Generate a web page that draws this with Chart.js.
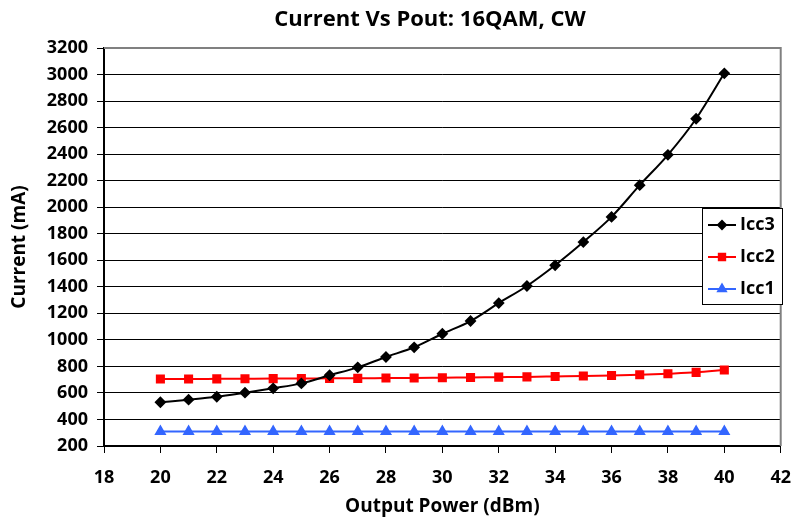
<!DOCTYPE html>
<html>
<head>
<meta charset="utf-8">
<script src="https://cdn.jsdelivr.net/npm/chart.js@4/dist/chart.umd.min.js"></script>
<style>
  body { margin: 0; background: #fff; }
  canvas { display: block; }
</style>
</head>
<body>
<canvas id="grafico" width="805" height="521"></canvas>
<script>
// dados
const potencia = [20, 21, 22, 23, 24, 25, 26, 27, 28, 29, 30, 31, 32, 33, 34, 35, 36, 37, 38, 39, 40];
const icc3 = [530, 549, 571, 602, 635, 672, 733, 793, 871, 944, 1046, 1142, 1277, 1406, 1562, 1737, 1927, 2166, 2395, 2667, 3009];
const icc2 = [705, 705, 706, 707, 708, 708, 710, 710, 712, 713, 715, 717, 719, 721, 724, 727, 731, 737, 745, 755, 773];
const icc1 = [310, 310, 310, 310, 310, 310, 310, 310, 310, 310, 310, 310, 310, 310, 310, 310, 310, 310, 310, 310, 310];

const fonte = '"Open Sans", "DejaVu Sans", sans-serif';

function pontos(valores) {
  return potencia.map((x, i) => ({ x: x, y: valores[i] }));
}

// titulo centrado sobre a area do grafico, como no excel
const tituloPlugin = {
  id: 'tituloPlugin',
  afterDraw(chart) {
    const ctx = chart.ctx;
    ctx.save();
    ctx.font = 'bold 22px ' + fonte;
    ctx.fillStyle = '#000';
    ctx.textAlign = 'center';
    ctx.textBaseline = 'middle';
    ctx.fillText('Current Vs Pout: 16QAM, CW', 430, 20);
    ctx.restore();
  }
};

// borda cinza em cima e a direita
const bordaPlugin = {
  id: 'bordaPlugin',
  beforeDatasetsDraw(chart) {
    const a = chart.chartArea;
    const ctx = chart.ctx;
    ctx.save();
    ctx.strokeStyle = '#808080';
    ctx.lineWidth = 2;
    ctx.beginPath();
    ctx.moveTo(a.left, a.top);
    ctx.lineTo(a.right, a.top);
    ctx.lineTo(a.right, a.bottom);
    ctx.stroke();
    ctx.restore();
  }
};

// legenda dentro da area, com caixa
const legendaPlugin = {
  id: 'legendaPlugin',
  afterDraw(chart) {
    const ctx = chart.ctx;
    const x0 = 702, y0 = 208, w = 80, h = 96;
    ctx.save();
    ctx.fillStyle = '#fff';
    ctx.fillRect(x0, y0, w, h);
    ctx.strokeStyle = '#000';
    ctx.lineWidth = 1;
    ctx.strokeRect(x0 + 0.5, y0 + 0.5, w, h);
    chart.data.datasets.forEach((ds, i) => {
      const yy = y0 + 17 + i * 32;
      ctx.strokeStyle = ds.borderColor;
      ctx.lineWidth = 2;
      ctx.beginPath();
      ctx.moveTo(x0 + 6, yy);
      ctx.lineTo(x0 + 34, yy);
      ctx.stroke();
      ctx.fillStyle = ds.pointBackgroundColor;
      Chart.helpers.drawPoint(ctx, {
        pointStyle: ds.pointStyle, radius: ds.pointRadius - 0.5, rotation: 0, borderWidth: 1
      }, x0 + 20, yy);
      ctx.fillStyle = '#000';
      ctx.font = 'bold 18px ' + fonte;
      ctx.textAlign = 'left';
      ctx.textBaseline = 'middle';
      ctx.fillText(ds.label, x0 + 38, yy);
    });
    ctx.restore();
  }
};

new Chart(document.getElementById('grafico'), {
  type: 'line',
  data: {
    datasets: [
      {
        label: 'Icc3',
        data: pontos(icc3),
        borderColor: '#000000',
        backgroundColor: '#000000',
        pointBackgroundColor: '#000000',
        pointBorderColor: '#000000',
        pointStyle: 'rectRot',
        pointRadius: 4.5,
        borderWidth: 2,
        cubicInterpolationMode: 'monotone'
      },
      {
        label: 'Icc2',
        data: pontos(icc2),
        borderColor: '#FF0000',
        backgroundColor: '#FF0000',
        pointBackgroundColor: '#FF0000',
        pointBorderColor: '#FF0000',
        pointStyle: 'rect',
        pointRadius: 5,
        borderWidth: 2,
        cubicInterpolationMode: 'monotone'
      },
      {
        label: 'Icc1',
        data: pontos(icc1),
        borderColor: '#3366FF',
        backgroundColor: '#3366FF',
        pointBackgroundColor: '#3366FF',
        pointBorderColor: '#3366FF',
        pointStyle: 'triangle',
        pointRadius: 5,
        borderWidth: 2,
        cubicInterpolationMode: 'monotone'
      }
    ]
  },
  options: {
    responsive: false,
    animation: false,
    layout: { padding: { top: 48, right: 10, left: 0, bottom: 0 } },
    plugins: {
      legend: { display: false },
      title: { display: false },
      tooltip: { enabled: false }
    },
    scales: {
      x: {
        type: 'linear',
        min: 18,
        max: 42,
        afterFit(scale) { scale.height = 75; },
        ticks: {
          stepSize: 2,
          color: '#000',
          padding: 14,
          font: { family: fonte, size: 18, weight: 'bold' }
        },
        grid: {
          drawOnChartArea: false,
          drawTicks: true,
          tickLength: 7,
          color: '#000'
        },
        border: { color: '#000', width: 2 },
        title: {
          display: true,
          text: 'Output Power (dBm)',
          color: '#000',
          padding: { top: 0, bottom: 3 },
          font: { family: fonte, size: 19, weight: 'bold' }
        }
      },
      y: {
        min: 200,
        max: 3200,
        afterFit(scale) { scale.width = 104; },
        ticks: {
          stepSize: 200,
          color: '#000',
          padding: 9,
          font: { family: fonte, size: 18, weight: 'bold' },
          callback: (v) => String(v)
        },
        grid: {
          color: '#000',
          lineWidth: 1,
          tickLength: 7
        },
        border: { color: '#000', width: 2 },
        title: {
          display: true,
          text: 'Current (mA)',
          color: '#000',
          padding: { top: 8, bottom: 0 },
          font: { family: fonte, size: 19, weight: 'bold' }
        }
      }
    }
  },
  plugins: [tituloPlugin, bordaPlugin, legendaPlugin]
});
</script>
</body>
</html>
